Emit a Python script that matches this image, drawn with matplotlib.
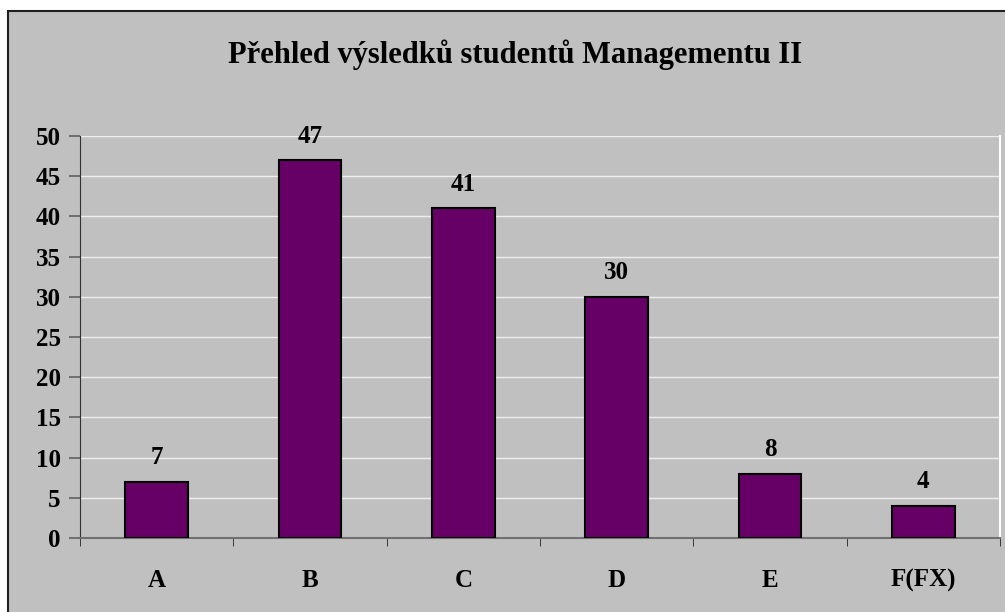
import matplotlib.pyplot as plt
from matplotlib.patches import Rectangle
import numpy as np

categories = ['A', 'B', 'C', 'D', 'E', 'F(FX)']
values = [7, 47, 41, 30, 8, 4]
yticks = [0, 5, 10, 15, 20, 25, 30, 35, 40, 45, 50]
title = 'Přehled výsledků studentů Managementu II'

BG = '#C0C0C0'
BAR = '#660066'
W, H = 1005, 612

plt.rcParams['font.family'] = ['Liberation Serif', 'DejaVu Serif']
plt.rcParams['font.weight'] = 'bold'

fig = plt.figure(figsize=(W / 100, H / 100), dpi=100)
fig.patch.set_facecolor('white')
# chart area frame (runs off right/bottom edge)
frame = Rectangle((8 / W, -0.05), 1.0, 1.05 - 11 / H, transform=fig.transFigure,
                  facecolor=BG, edgecolor='#202020', linewidth=1.5, zorder=-10)
fig.add_artist(frame)

ax = fig.add_axes([80 / W, (H - 538) / H, 920 / W, 402 / H])
ax.set_zorder(5)
ax.set_facecolor(BG)

x = np.arange(len(categories))
ax.bar(x, values, width=0.41, color=BAR, edgecolor='black', linewidth=1.5, zorder=3)
for xi, v in zip(x, values):
    ax.annotate(str(v), (xi, v), xytext=(0, 9), textcoords='offset points',
                ha='center', va='bottom', fontsize=18, fontweight='bold')

ax.set_xlim(-0.5, len(categories) - 0.5)
ax.set_ylim(0, 50)
ax.set_yticks(yticks)
ax.set_yticklabels([str(t) for t in yticks], fontsize=18, fontweight='bold')
ax.yaxis.grid(True, color='#EEEEEE', linewidth=1)
ax.set_axisbelow(True)

ax.set_xticks(x)
ax.set_xticklabels(categories, fontsize=18, fontweight='bold')
ax.tick_params(axis='x', which='major', length=0, pad=22)
ax.set_xticks(np.arange(len(categories) + 1) - 0.5, minor=True)
ax.tick_params(axis='x', which='minor', length=6, color='#202020', direction='out')
ax.tick_params(axis='y', length=8, color='#606060', width=1.2, pad=6)

ax.spines['left'].set_color('#303030')
ax.spines['bottom'].set_color('#707070')
ax.spines['bottom'].set_linewidth(1.5)
ax.spines['top'].set_visible(False)
ax.spines['right'].set_color('white')
ax.spines['right'].set_linewidth(1.5)

fig.text(515 / W, 1 - 55 / H, title, ha='center', va='center', fontsize=22, fontweight='bold')

fig.savefig('out.png', dpi=100)
